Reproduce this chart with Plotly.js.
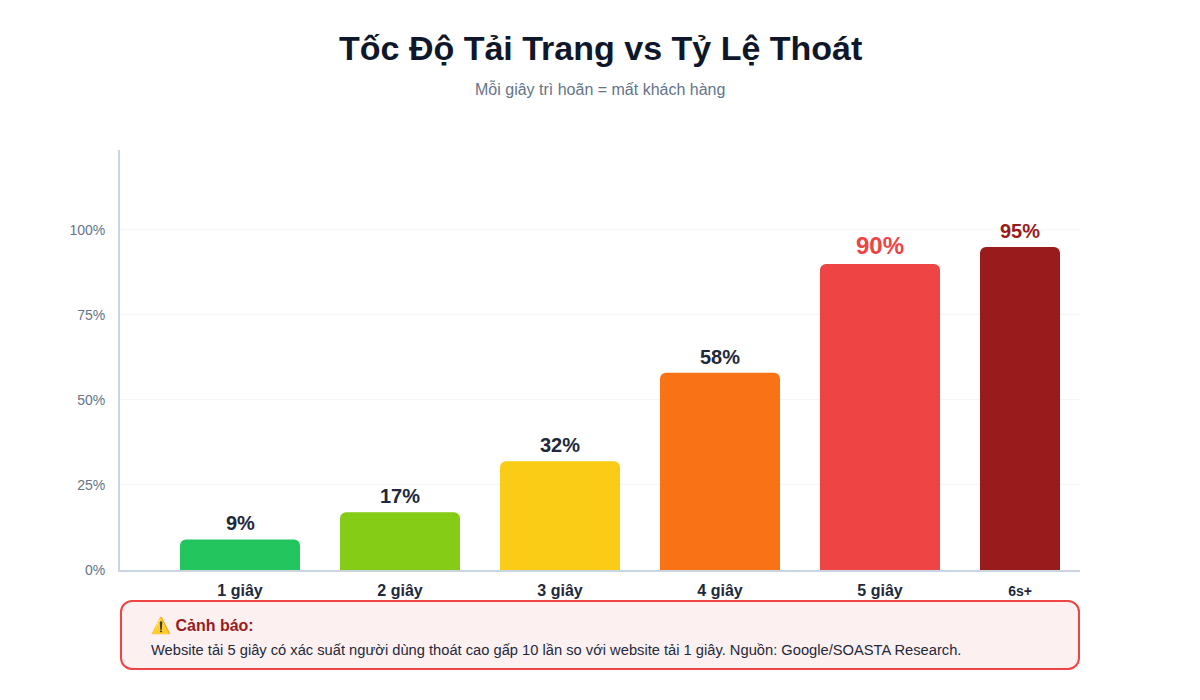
<!DOCTYPE html>
<html>
<head>
<meta charset="utf-8">
<script src="https://cdn.plot.ly/plotly-3.0.1.min.js"></script>
<style>
  html, body { margin:0; padding:0; background:#ffffff; }
  #wrap { position:relative; width:1200px; height:700px; }
  #chart { position:absolute; left:0; top:0; width:1200px; height:700px; }
  #warn {
    position:absolute; left:120px; top:600px; width:956px; height:66px;
    border:2px solid #ef4444; border-radius:12px; background:#fdf0f0;
    font-family:"Liberation Sans", Arial, sans-serif; box-sizing:content-box;
  }
  #warn .h { position:absolute; left:29px; top:14px; font-size:16px; font-weight:bold; color:#991b1b; }
  #warn .b { position:absolute; left:29px; top:40px; font-size:14.7px; color:#1e293b; }
</style>
</head>
<body>
<div id="wrap">
  <div id="chart"></div>
  <div id="warn">
    <div class="h">⚠️ Cảnh báo:</div>
    <div class="b">Website tải 5 giây có xác suất người dùng thoát cao gấp 10 lần so với website tải 1 giây. Nguồn: Google/SOASTA Research.</div>
  </div>
</div>
<script>
const categories = ["1 giây", "2 giây", "3 giây", "4 giây", "5 giây", "6s+"];
const bounceRates = [9, 17, 32, 58, 90, 95];
const barColors = ["#22c55e", "#84cc16", "#facc15", "#f97316", "#ef4444", "#991b1b"];
const labelColors = ["#1e293b", "#1e293b", "#1e293b", "#1e293b", "#ef4444", "#991b1b"];
const labelSizes = [20, 20, 20, 20, 24, 20];
const tickSizes = [16, 16, 16, 16, 16, 14];
const barWidths = [0.75, 0.75, 0.75, 0.75, 0.75, 0.5];
const yTicks = [0, 25, 50, 75, 100];
const yTickLabels = ["0%", "25%", "50%", "75%", "100%"];

const font = "Liberation Sans, Arial, sans-serif";
const barOffset = -0.375;

const xIdx = categories.map((c, i) => i);
const centers = xIdx.map((i) => i + barOffset + barWidths[i] / 2);

const trace = {
  type: "bar",
  x: xIdx,
  y: bounceRates,
  width: barWidths,
  offset: barOffset,
  marker: { color: barColors, cornerradius: 6 },
  hoverinfo: "skip"
};

const annotations = categories.map((c, i) => ({
  x: centers[i], y: bounceRates[i], xref: "x", yref: "y",
  text: "<b>" + bounceRates[i] + "%</b>",
  showarrow: false, yanchor: "bottom", yshift: 3,
  font: { family: font, size: labelSizes[i], color: labelColors[i] }
}));

annotations.push({
  xref: "paper", yref: "paper", x: 0.5, y: 1, yanchor: "middle",
  xanchor: "center", showarrow: false,
  text: "<b>Tốc Độ Tải Trang vs Tỷ Lệ Thoát</b>",
  font: { family: font, size: 34, color: "#0f172a" },
  yshift: 102
});
annotations.push({
  xref: "paper", yref: "paper", x: 0.5, y: 1, yanchor: "middle",
  xanchor: "center", showarrow: false,
  text: "Mỗi giây trì hoãn = mất khách hàng",
  font: { family: font, size: 16, color: "#64748b" },
  yshift: 61
});

const tickText = categories.map((c, i) =>
  '<span style="font-size:' + tickSizes[i] + 'px">' + c + '</span>');

const layout = {
  width: 1200, height: 700,
  margin: { l: 120, r: 120, t: 150, b: 130, pad: 0 },
  paper_bgcolor: "#ffffff", plot_bgcolor: "#ffffff",
  showlegend: false,
  xaxis: {
    type: "linear",
    range: [-0.75, 5.25],
    tickmode: "array", tickvals: centers, ticktext: tickText,
    tickfont: { family: font, size: 16, color: "#1e293b", weight: "bold" },
    showline: true, linecolor: "#cbd5e1", linewidth: 2,
    showgrid: false, ticks: "", zeroline: false, ticklabelstandoff: 5,
    fixedrange: true
  },
  yaxis: {
    range: [0, 123.5],
    tickmode: "array", tickvals: yTicks, ticktext: yTickLabels,
    tickfont: { family: font, size: 14, color: "#64748b" },
    showline: true, linecolor: "#cbd5e1", linewidth: 2,
    showgrid: true, gridcolor: "#f5f6f8", gridwidth: 1,
    zeroline: false, ticks: "", ticklabelstandoff: 10,
    fixedrange: true
  },
  annotations: annotations
};

Plotly.newPlot("chart", [trace], layout, { displayModeBar: false, staticPlot: true });
</script>
</body>
</html>
